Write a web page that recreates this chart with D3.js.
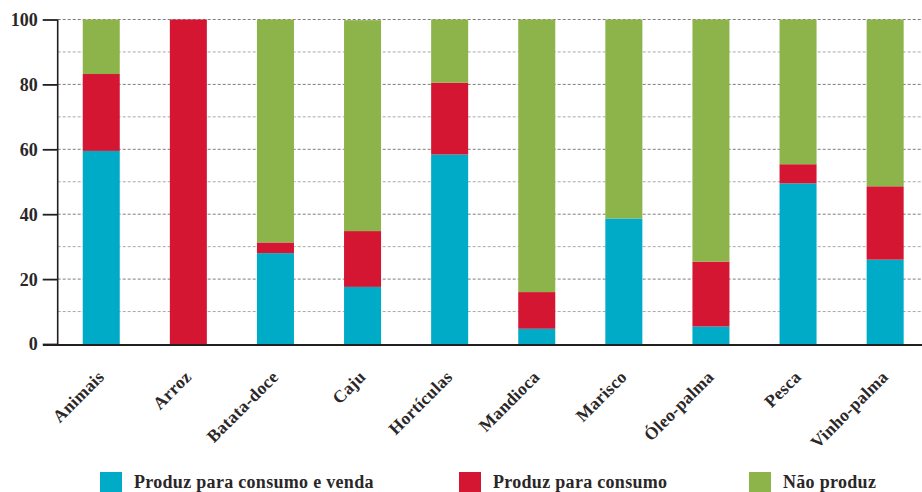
<!DOCTYPE html>
<html><head><meta charset="utf-8">
<script src="https://cdn.jsdelivr.net/npm/d3@7"></script>
<style>
html,body{margin:0;padding:0;background:#fff;overflow:hidden;}
text{font-family:"Liberation Serif","DejaVu Serif",serif;font-weight:bold;fill:#2b2728;}
</style></head>
<body>
<svg id="chart" width="922" height="492"></svg>
<script>
const categories = ["Animais","Arroz","Batata-doce","Caju","Hortículas","Mandioca","Marisco","Óleo-palma","Pesca","Vinho-palma"];
const vendaValues   = [59.5, 0,   28.0, 17.6, 58.4, 4.7,  38.7, 5.4,  49.5, 26.0];
const consumoValues = [23.7, 100, 3.3,  17.2, 22.1, 11.3, 0,    20.0, 5.9,  22.6];
const naoValues     = [16.8, 0,   68.7, 65.0, 19.5, 84.0, 61.3, 74.6, 44.6, 51.4];
const seriesNames = ["Produz para consumo e venda","Produz para consumo","Não produz"];
const seriesColors = ["#00abc8","#d41632","#8db44a"];
const yTicks = [0,20,40,60,80,100];
const yMinor = [10,30,50,70,90];

const svg = d3.select("#chart");
const x0 = 57.7, plotTop = 19.5, plotBottom = 344;
const x = d3.scaleBand().domain(categories).range([x0, x0 + 871]).paddingInner(0.575).paddingOuter(0.2875);
const y = d3.scaleLinear().domain([0,100]).range([plotBottom, plotTop]);

// gridlines
const grid = svg.append("g");
grid.selectAll("line.minor").data(yMinor).join("line")
  .attr("x1", x0).attr("x2", 922).attr("y1", d=>y(d)).attr("y2", d=>y(d))
  .attr("stroke", "#a8a8a8").attr("stroke-width", 1).attr("stroke-dasharray", "3,2");
grid.selectAll("line.major").data(yTicks.filter(d=>d>0)).join("line")
  .attr("x1", x0).attr("x2", 922).attr("y1", d=>y(d)).attr("y2", d=>y(d))
  .attr("stroke", "#7d7d7d").attr("stroke-width", 1).attr("stroke-dasharray", "3,2");

// stacked bars
const rows = categories.map((c,i)=>({cat:c, v0:vendaValues[i], v1:consumoValues[i], v2:naoValues[i]}));
const stack = d3.stack().keys(["v0","v1","v2"])(rows);
svg.append("g").selectAll("g").data(stack).join("g")
  .attr("fill", (d,i)=>seriesColors[i])
  .selectAll("rect").data(d=>d).join("rect")
  .attr("x", d=>x(d.data.cat)).attr("width", x.bandwidth())
  .attr("y", d=>y(d[1])).attr("height", d=>Math.max(0, y(d[0]) - y(d[1])));

// y axis
const yAxis = d3.axisLeft(y).tickValues(yTicks).tickSize(15).tickPadding(5).tickFormat(d3.format("d"));
const ya = svg.append("g").attr("transform", `translate(${x0},0)`).call(yAxis);
ya.select(".domain").attr("stroke", "#231f20").attr("stroke-width", 1.6).attr("d", `M0,${plotTop}V${plotBottom}`);
ya.selectAll(".tick line").attr("stroke", "#231f20").attr("stroke-width", 1.8);
ya.selectAll(".tick text").attr("font-size", 18).attr("fill", "#2b2728")
  .attr("font-family", "Liberation Serif, DejaVu Serif, serif").attr("font-weight", "bold").attr("dy", "0.33em");

// x axis line
svg.append("line").attr("x1", 43).attr("x2", 922).attr("y1", plotBottom+1).attr("y2", plotBottom+1)
  .attr("stroke", "#231f20").attr("stroke-width", 2.2);

// category labels
svg.append("g").selectAll("text").data(categories).join("text")
  .attr("transform", d=>`translate(${x(d)+x.bandwidth()/2+4},378) rotate(-45)`)
  .attr("text-anchor", "end").attr("font-size", 17.5).attr("letter-spacing", "0.3px")
  .text(d=>d);

// legend
const legX = [100, 459, 749];
const lg = svg.append("g").selectAll("g").data(seriesNames).join("g")
  .attr("transform", (d,i)=>`translate(${legX[i]},472)`);
lg.append("rect").attr("width", 22).attr("height", 22).attr("fill", (d,i)=>seriesColors[i]);
lg.append("text").attr("x", 34).attr("y", 16).attr("font-size", 18).attr("letter-spacing", "0.3px").text(d=>d);
</script>
</body></html>
